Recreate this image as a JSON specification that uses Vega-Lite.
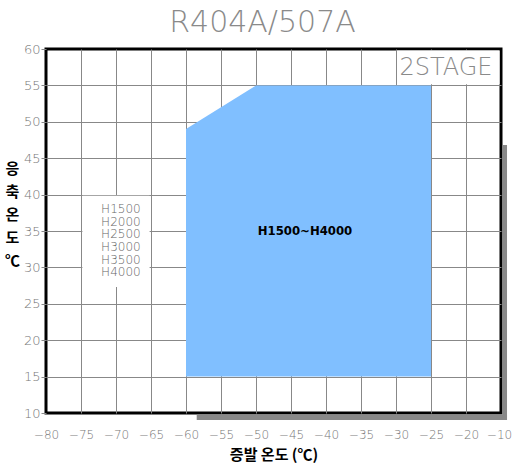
{
  "$schema": "https://vega.github.io/schema/vega-lite/v6.json",
  "width": 455,
  "height": 364,
  "autosize": {"type": "none"},
  "padding": {"left": 46, "top": 49, "right": 11, "bottom": 58},
  "background": "white",
  "title": {"text": "R404A/507A", "fontSize": 30, "font": "DejaVu Sans", "fontWeight": 200, "color": "#8a8a8a", "anchor": "middle", "offset": 5, "dx": -11},
  "config": {
    "view": {"stroke": "black", "strokeWidth": 3, "fill": "white"},
    "axis": {"labelFont": "DejaVu Sans", "labelFontWeight": 200, "labelColor": "#777777", "labelFontSize": 13, "gridColor": "#888888", "gridWidth": 1, "domain": false, "labelOverlap": false, "labelFlush": false}
  },
  "datasets": {
    "shadow": [
      {"x": -58.47, "x2": -14.14, "y": 9.8, "y2": 9.04},
      {"x": -14.8, "x2": -14.14, "y": 46.8, "y2": 9.04}
    ],
    "boxes": [
      {"x": -74.8, "x2": -65.2, "y": 39.85, "y2": 27.3},
      {"x": -29.85, "x2": -15.2, "y": 55.15, "y2": 59.8}
    ],
    "region": [
      {"x": -60, "y": 49, "y2": 15},
      {"x": -50, "y": 55, "y2": 15},
      {"x": -25, "y": 55, "y2": 15}
    ],
    "center": [{"x": -43, "y": 35, "label": "H1500~H4000"}],
    "models": [{"x": -69.3, "y": 38.0, "label": "H1500\nH2000\nH2500\nH3000\nH3500\nH4000"}],
    "stage": [{"x": -22.86, "y": 57.4, "label": "2STAGE"}]
  },
  "encoding": {
    "x": {
      "field": "x", "type": "quantitative",
      "scale": {"domain": [-80, -15], "nice": false, "zero": false},
      "axis": {
        "values": [-80, -75, -70, -65, -60, -55, -50, -45, -40, -35, -30, -25, -20, -15],
        "labelExpr": "datum.value === -15 ? '−10' : datum.label",
        "labelFontSize": 12,
        "labelOffset": {"condition": {"test": "datum.value === -15", "value": -2}, "value": 0},
        "ticks": false, "labelPadding": 16,
        "gridOpacity": {"condition": {"test": "datum.value === -80 || datum.value === -15", "value": 0}, "value": 1},
        "title": "증발 온도 (℃)", "titleFont": "Noto Sans CJK KR", "titleFontWeight": "bold", "titleFontSize": 15, "titleColor": "black", "titlePadding": 7
      }
    },
    "y": {
      "field": "y", "type": "quantitative",
      "scale": {"domain": [10, 60], "nice": false, "zero": false},
      "axis": {
        "values": [10, 15, 20, 25, 30, 35, 40, 45, 50, 55, 60],
        "tickSize": 5, "tickColor": "#888888", "labelPadding": 1,
        "gridOpacity": {"condition": {"test": "datum.value === 10 || datum.value === 60", "value": 0}, "value": 1},
        "title": ["응", "축", "온", "도", "℃"], "titleAngle": 0, "titleFont": "Noto Sans CJK KR", "titleFontWeight": "bold", "titleFontSize": 15, "titleColor": "black",
        "titleX": -34, "titleY": 119, "titleAlign": "center", "titleBaseline": "middle", "titleLineHeight": 23
      }
    }
  },
  "layer": [
    {"data": {"name": "shadow"}, "mark": {"type": "rect", "fill": "#888888"}, "encoding": {"x2": {"field": "x2"}, "y2": {"field": "y2"}}},
    {"data": {"name": "boxes"}, "mark": {"type": "rect", "fill": "white"}, "encoding": {"x2": {"field": "x2"}, "y2": {"field": "y2"}}},
    {"data": {"name": "region"}, "mark": {"type": "area", "color": "#80bfff", "interpolate": "linear"}, "encoding": {"y2": {"field": "y2"}}},
    {"data": {"name": "center"}, "mark": {"type": "text", "font": "DejaVu Sans Condensed, Liberation Sans, sans-serif", "fontWeight": "bold", "fontSize": 13, "color": "black", "align": "center", "baseline": "middle"}, "encoding": {"text": {"field": "label"}}},
    {"data": {"name": "models"}, "mark": {"type": "text", "font": "DejaVu Sans", "fontWeight": 200, "fontSize": 12, "color": "#666666", "align": "center", "baseline": "middle", "lineBreak": "\n", "lineHeight": 12.6}, "encoding": {"text": {"field": "label"}}},
    {"data": {"name": "stage"}, "mark": {"type": "text", "font": "DejaVu Sans", "fontWeight": 200, "fontSize": 24, "color": "#8a8a8a", "align": "center", "baseline": "middle"}, "encoding": {"text": {"field": "label"}}}
  ]
}
